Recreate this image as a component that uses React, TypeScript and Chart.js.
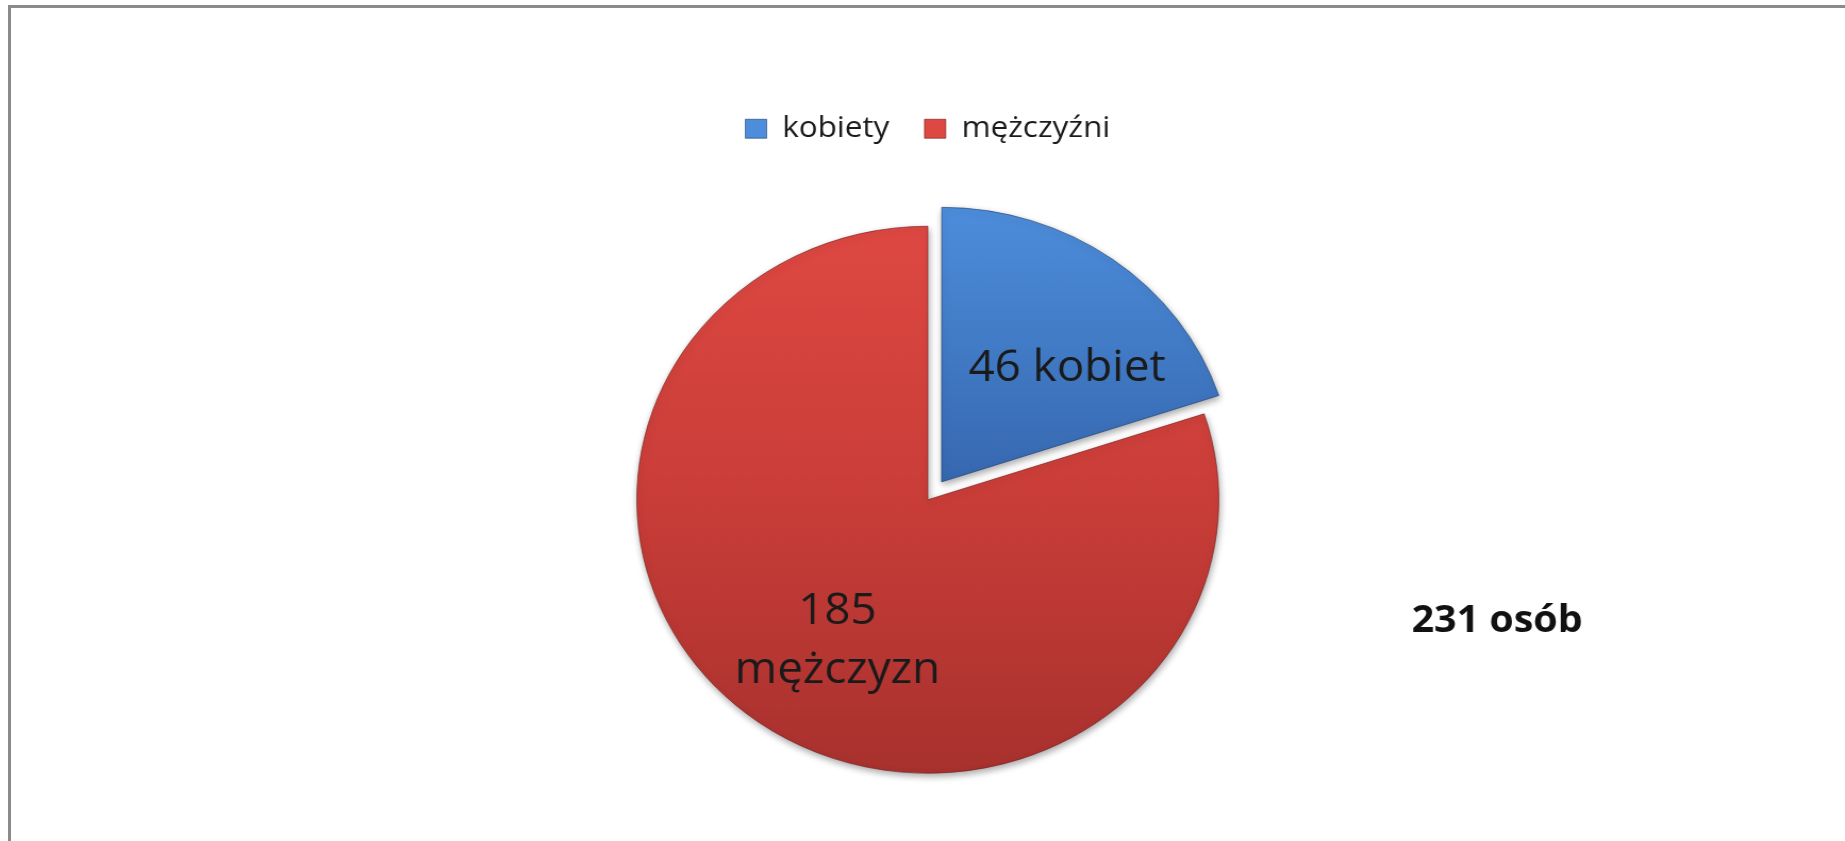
import React, { useEffect, useRef } from "react";
import { Chart, registerables } from "chart.js";

Chart.register(...registerables);

// ---- data ----
const categories: string[] = ["kobiety", "mężczyźni"];
const counts: number[] = [46, 185];
const sliceLabels: string[][] = [["46 kobiet"], ["185", "mężczyzn"]];
const totalLabel = "231 osób";

// ---- layout / style constants ----
const SX = 1.064; // horizontal stretch of the reference picture
const W = 1734;
const H = 843;
const R = 273.5;
const EXPLODE = [88, 0]; // Chart.js moves an arc by ~offset/4
const LABEL_POS = [
  { deg: 45.1, frac: 0.676 },
  { deg: 211, frac: 0.603 },
];
const FONT = "'Open Sans', 'Noto Sans', sans-serif";
const BLUE_STOPS: [number, string][] = [
  [0, "#4d8ddb"],
  [0.5, "#3668b0"],
  [1, "#2f5c9c"],
];
const RED_STOPS: [number, string][] = [
  [0, "#de4842"],
  [0.5, "#c93d38"],
  [1, "#a8312e"],
];

export default function App() {
  const ref = useRef<HTMLCanvasElement>(null);

  useEffect(() => {
    const canvas = ref.current;
    if (!canvas) return;

    const makeGrad = (chart: any, stops: [number, string][]) => {
      const area = chart.chartArea;
      if (!area) return stops[1][1];
      const cy = (area.top + area.bottom) / 2;
      const g = chart.ctx.createLinearGradient(0, cy - R, 0, cy + R);
      stops.forEach(([o, c]) => g.addColorStop(o, c));
      return g;
    };

    const shadowPlugin = {
      id: "shadow",
      beforeDatasetsDraw(chart: any) {
        const ctx = chart.ctx;
        ctx.save();
        ctx.shadowColor = "rgba(0,0,0,0.35)";
        ctx.shadowBlur = 7;
        ctx.shadowOffsetX = 1;
        ctx.shadowOffsetY = 3;
      },
      afterDatasetsDraw(chart: any) {
        chart.ctx.restore();
      },
    };

    const labelPlugin = {
      id: "labels",
      afterDraw(chart: any) {
        const ctx = chart.ctx;
        const meta = chart.getDatasetMeta(0);
        ctx.save();
        ctx.fillStyle = "#1a1a1a";
        ctx.textAlign = "center";
        ctx.textBaseline = "middle";
        ctx.font = `43px ${FONT}`;
        meta.data.forEach((arc: any, i: number) => {
          const p = LABEL_POS[i];
          const a = (p.deg * Math.PI) / 180;
          const x = arc.x + Math.sin(a) * R * p.frac;
          const y = arc.y - Math.cos(a) * R * p.frac;
          const lines = sliceLabels[i];
          const lh = 59;
          lines.forEach((t, j) => {
            ctx.fillText(t, x, y + (j - (lines.length - 1) / 2) * lh);
          });
        });
        ctx.font = `bold 37px ${FONT}`;
        ctx.fillStyle = "#111";
        ctx.fillText(totalLabel, 1407, 618);
        ctx.restore();
      },
    };

    const chart = new Chart(canvas, {
      type: "pie",
      data: {
        labels: categories,
        datasets: [
          {
            data: counts,
            backgroundColor: (c: any) =>
              makeGrad(c.chart, c.dataIndex === 0 ? BLUE_STOPS : RED_STOPS),
            borderColor: ["rgba(30,60,110,0.6)", "rgba(110,25,25,0.6)"],
            borderWidth: 1,
            offset: EXPLODE,
            hoverOffset: 0,
            radius: R,
          } as any,
        ],
      },
      options: {
        responsive: false,
        animation: false,
        devicePixelRatio: 1,
        layout: { padding: { top: 78, left: 10, right: 0, bottom: 0 } },
        plugins: {
          legend: {
            display: true,
            position: "top",
            labels: {
              boxWidth: 20,
              boxHeight: 19,
              padding: 33,
              color: "#1a1a1a",
              font: { family: FONT, size: 29.5 },
            },
          },
          tooltip: { enabled: false },
        },
      } as any,
      plugins: [shadowPlugin, labelPlugin],
    });

    return () => chart.destroy();
  }, []);

  return (
    <>
      <div
        style={{
          position: "fixed",
          left: 0,
          top: 3,
          width: W,
          height: H,
          transform: `scaleX(${SX})`,
          transformOrigin: "0 0",
        }}
      >
        <canvas
          ref={ref}
          width={W}
          height={H}
          style={{ display: "block", width: W, height: H }}
        />
      </div>
      <div
        style={{
          position: "fixed",
          left: 8,
          top: 5,
          width: 1900,
          height: 900,
          borderLeft: "3px solid #8a8a8a",
          borderTop: "3px solid #8a8a8a",
          pointerEvents: "none",
        }}
      />
    </>
  );
}
